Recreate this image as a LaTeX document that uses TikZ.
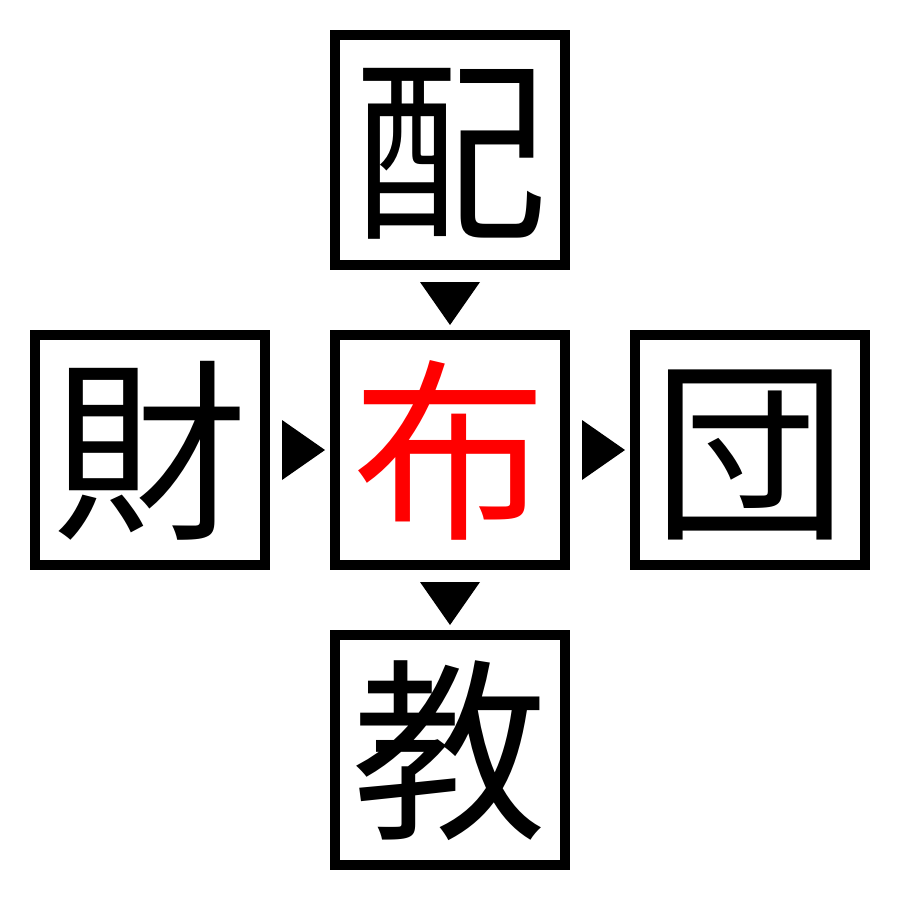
\documentclass[tikz,border=0pt]{standalone}
\usepackage{fontspec}
\newfontfamily\cjk{Noto Sans CJK JP}
\begin{document}
\begin{tikzpicture}[x=1pt,y=-1pt,
  kbox/.style={draw=black,line width=10pt,minimum size=230pt,inner sep=0pt,
    font=\cjk\fontsize{195}{195}\selectfont,text height=172pt,text depth=23pt},
  tri/.style={fill=black,draw=none}]
\useasboundingbox (0,0) rectangle (900,900);
\fill[white] (0,0) rectangle (900,900);
\node[kbox] (top) at (450,150) {配};
\node[kbox] (left) at (150,450) {財};
\node[kbox,text=red] (center) at (450,450) {布};
\node[kbox] (right) at (750,450) {団};
\node[kbox] (bottom) at (450,750) {教};
\fill[tri] ([xshift=-30pt,yshift=-12pt]top.south) -- ([xshift=30pt,yshift=-12pt]top.south) -- ([yshift=5pt]center.north) -- cycle;
\fill[tri] ([xshift=-30pt,yshift=-12pt]center.south) -- ([xshift=30pt,yshift=-12pt]center.south) -- ([yshift=5pt]bottom.north) -- cycle;
\fill[tri] ([xshift=12pt,yshift=-30pt]left.east) -- ([xshift=12pt,yshift=30pt]left.east) -- ([xshift=-5pt]center.west) -- cycle;
\fill[tri] ([xshift=12pt,yshift=-30pt]center.east) -- ([xshift=12pt,yshift=30pt]center.east) -- ([xshift=-5pt]right.west) -- cycle;
\end{tikzpicture}
\end{document}
